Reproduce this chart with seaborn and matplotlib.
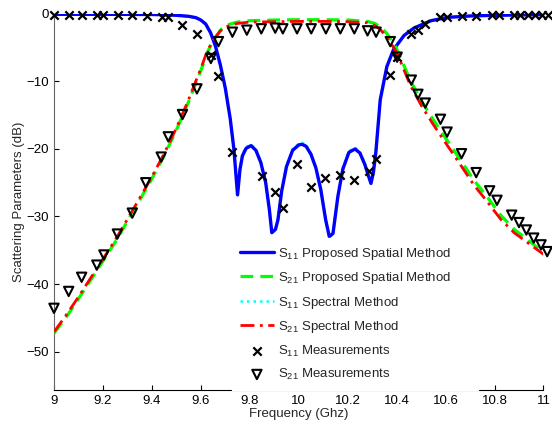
import matplotlib
matplotlib.use("Agg")
import matplotlib.pyplot as plt
import seaborn as sns

# simulated curves
f_s11 = [9.0, 9.1, 9.2, 9.3, 9.4, 9.45, 9.5, 9.55, 9.58, 9.6, 9.62, 9.64, 9.66,
         9.68, 9.70, 9.72, 9.735, 9.75, 9.76, 9.77, 9.785, 9.805, 9.825, 9.845,
         9.865, 9.88, 9.89, 9.905, 9.915, 9.93, 9.95, 9.975, 10.0, 10.013, 10.03,
         10.05, 10.07, 10.09, 10.11, 10.125, 10.14, 10.16, 10.18, 10.205, 10.23,
         10.25, 10.27, 10.285, 10.295, 10.305, 10.315, 10.333, 10.36, 10.387,
         10.43, 10.47, 10.54, 10.61, 10.7, 10.8, 10.9, 11.0]
s11_spatial = [-0.05, -0.05, -0.05, -0.06, -0.08, -0.12, -0.2, -0.35, -0.55, -0.9,
               -1.5, -2.8, -4.8, -7.6, -11.0, -15.5, -20.0, -26.8, -23.0, -21.0,
               -19.9, -19.5, -20.2, -22.0, -25.0, -29.0, -32.4, -31.9, -30.5, -26.3,
               -22.6, -20.2, -19.4, -19.3, -19.6, -20.8, -22.8, -26.0, -30.5, -33.0,
               -32.5, -27.0, -23.0, -20.5, -20.0, -20.6, -22.3, -24.0, -25.1, -23.5,
               -20.5, -12.7, -7.8, -5.3, -3.2, -2.1, -1.0, -0.5, -0.3, -0.2, -0.15,
               -0.1]
s11_spectral = [-0.05, -0.05, -0.05, -0.06, -0.08, -0.12, -0.2, -0.35, -0.55, -0.9,
                -1.5, -2.8, -4.8, -7.6, -11.0, -15.5, -20.0, -26.7, -22.9, -20.8,
                -19.7, -19.3, -20.0, -21.9, -24.9, -28.9, -32.3, -31.8, -30.4, -26.2,
                -22.4, -20.0, -19.2, -19.1, -19.4, -20.6, -22.7, -25.9, -30.4, -32.9,
                -32.4, -26.9, -22.8, -20.3, -19.8, -20.4, -22.1, -23.9, -25.0, -23.4,
                -20.4, -12.6, -7.7, -5.2, -3.2, -2.1, -1.0, -0.5, -0.3, -0.2, -0.15,
                -0.1]

f_s21 = [9.0, 9.05, 9.1, 9.15, 9.2, 9.25, 9.3, 9.35, 9.4, 9.45, 9.5, 9.55, 9.58,
         9.6, 9.625, 9.65, 9.68, 9.71, 9.75, 9.8, 9.9, 10.0, 10.1, 10.2, 10.28,
         10.31, 10.333, 10.36, 10.395, 10.42, 10.455, 10.5, 10.55, 10.6, 10.66,
         10.715, 10.77, 10.825, 10.88, 10.94, 11.0]
s21_spatial = [-47.3, -44.9, -42.2, -39.4, -36.6, -33.8, -30.7, -27.6, -24.4, -21.0,
               -17.2, -13.0, -10.2, -8.4, -5.8, -4.0, -2.4, -1.6, -1.2, -1.0, -0.9,
               -0.85, -0.85, -0.9, -1.1, -1.4, -1.9, -2.9, -4.8, -6.8, -9.8, -12.8,
               -15.7, -18.4, -21.6, -24.6, -27.1, -29.8, -31.9, -33.6, -35.3]
s21_spectral = [-47.1, -44.6, -41.9, -39.1, -36.3, -33.5, -30.4, -27.3, -24.1, -20.7,
                -16.9, -12.7, -9.9, -8.1, -5.6, -3.9, -2.5, -1.8, -1.4, -1.2, -1.15,
                -1.1, -1.1, -1.15, -1.3, -1.7, -2.3, -3.4, -5.4, -7.4, -10.5, -13.5,
                -16.4, -19.1, -22.3, -25.3, -27.8, -30.4, -32.4, -34.0, -35.6]

# measurements
f_meas11 = [9.0, 9.06, 9.116, 9.175, 9.202, 9.263, 9.32, 9.379, 9.443, 9.467,
            9.525, 9.584, 9.641, 9.672, 9.729, 9.849, 9.904, 9.935, 9.993, 10.051,
            10.108, 10.17, 10.227, 10.286, 10.316, 10.374, 10.402, 10.46, 10.487,
            10.517, 10.579, 10.606, 10.665, 10.725, 10.79, 10.818, 10.879, 10.906,
            10.936, 10.964, 10.995, 11.02]
s11_meas = [-0.15, -0.15, -0.15, -0.15, -0.15, -0.15, -0.15, -0.25, -0.5, -0.5,
            -1.6, -3.0, -6.1, -9.2, -20.5, -24.0, -26.3, -28.8, -22.2, -25.6,
            -24.3, -23.8, -24.6, -23.2, -21.5, -9.0, -6.4, -2.9, -2.4, -1.5,
            -0.5, -0.5, -0.3, -0.3, -0.15, -0.15, -0.15, -0.15, -0.15, -0.15,
            -0.15, -0.15]

f_meas21 = [9.0, 9.06, 9.113, 9.175, 9.204, 9.259, 9.32, 9.375, 9.438, 9.467,
            9.525, 9.584, 9.641, 9.672, 9.729, 9.788, 9.847, 9.904, 9.935, 9.993,
            10.051, 10.111, 10.17, 10.227, 10.281, 10.316, 10.374, 10.402, 10.46,
            10.487, 10.517, 10.579, 10.606, 10.665, 10.725, 10.78, 10.81, 10.87,
            10.9, 10.93, 10.96, 10.99, 11.015]
s21_meas = [-43.6, -41.1, -39.0, -37.2, -35.7, -32.6, -29.5, -25.0, -21.2, -18.2,
            -14.9, -11.1, -6.6, -4.1, -2.7, -2.4, -2.2, -2.1, -2.2, -2.2, -2.2,
            -2.2, -2.2, -2.2, -2.5, -2.7, -4.1, -6.4, -9.8, -11.9, -13.2, -15.6,
            -17.5, -20.7, -23.5, -26.2, -27.6, -29.8, -30.9, -32.0, -33.2, -34.2,
            -35.2]

sns.set_style("ticks", {"xtick.direction": "in", "ytick.direction": "in"})
plt.rcParams["font.family"] = ["Liberation Sans", "DejaVu Sans"]
plt.rcParams["mathtext.default"] = "regular"

fig, ax = plt.subplots(figsize=(5.52, 4.23), dpi=100)
fig.subplots_adjust(left=0.0978, right=0.9846, bottom=0.078, top=0.967)

h1 = sns.lineplot(x=f_s11, y=s11_spatial, ax=ax, color="#0000ff", linewidth=2.4,
                  zorder=4).lines[-1]
h3 = sns.lineplot(x=f_s11, y=s11_spectral, ax=ax, color="#00ffff", linewidth=1.8,
                  linestyle=(0, (1, 1.6)), zorder=3).lines[-1]
h2 = sns.lineplot(x=f_s21, y=s21_spatial, ax=ax, color="#00ff00", linewidth=2.3,
                  linestyle=(0, (4, 2.2)), zorder=4).lines[-1]
h4 = sns.lineplot(x=f_s21, y=s21_spectral, ax=ax, color="#ff0000", linewidth=2.0,
                  linestyle=(0, (5, 2, 1, 2)), zorder=5).lines[-1]

sns.scatterplot(x=f_meas11, y=s11_meas, ax=ax, marker="x", color="black", s=36,
                linewidth=1.6, zorder=6, clip_on=False)
h5 = ax.collections[-1]
sns.scatterplot(x=f_meas21, y=s21_meas, ax=ax, marker="v", facecolor="none",
                edgecolor="black", s=45, linewidth=1.5, zorder=6, clip_on=False)
h6 = ax.collections[-1]

ax.set_xlim(9, 11)
ax.set_ylim(-55.7, 0)
ax.set_xticks([9, 9.2, 9.4, 9.6, 9.8, 10, 10.2, 10.4, 10.6, 10.8, 11])
ax.set_xticklabels(["9", "9.2", "9.4", "9.6", "9.8", "10", "10.2", "10.4",
                    "10.6", "10.8", "11"])
ax.set_yticks([-50, -40, -30, -20, -10, 0])
ax.tick_params(labelsize=9.5, length=3.5, width=0.8, colors="black")
sns.despine(ax=ax)
ax.spines["left"].set_color("#666666")
ax.spines["bottom"].set_color("black")

ax.set_xlabel("Frequency (Ghz)", fontsize=9.5, labelpad=1)
ax.set_ylabel("Scattering Parameters (dB)", fontsize=9.5, labelpad=1)

leg = ax.legend([h1, h2, h3, h4, h5, h6],
                [r"S$_{11}$ Proposed Spatial Method",
                 r"S$_{21}$ Proposed Spatial Method",
                 r"S$_{11}$ Spectral Method",
                 r"S$_{21}$ Spectral Method",
                 r"S$_{11}$ Measurements",
                 r"S$_{21}$ Measurements"],
                loc="upper left", bbox_to_anchor=(0.364, 0.405, 0.5026, 0.0),
                mode="expand", borderaxespad=0,
                fontsize=9.5, frameon=True, fancybox=False, framealpha=1,
                facecolor="white", edgecolor="white", handlelength=2.55,
                handletextpad=0.35, labelspacing=0.64, borderpad=0.6)
leg.set_zorder(10)

plt.savefig("out.png", dpi=100)
